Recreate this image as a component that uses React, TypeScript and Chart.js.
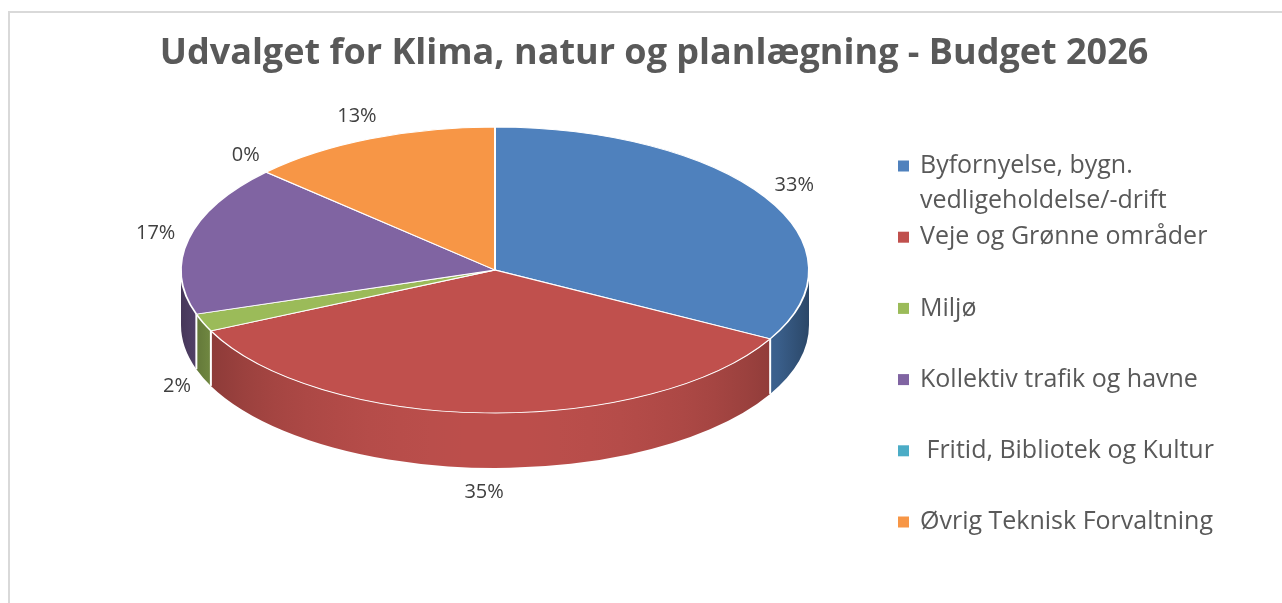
import React, { useEffect, useRef } from "react";
import { Chart, registerables } from "chart.js";

Chart.register(...registerables);

// ---------- data ----------
const TITLE = "Udvalget for Klima, natur og planlægning - Budget 2026";
const categories = [
  "Byfornyelse, bygn. vedligeholdelse/-drift",
  "Veje og Grønne områder",
  "Miljø",
  "Kollektiv trafik og havne",
  " Fritid, Bibliotek og Kultur",
  "Øvrig Teknisk Forvaltning",
];
const shares = [33, 35, 2, 17, 0, 13];
const colors = ["#4F81BD", "#C0504D", "#9BBB59", "#8064A2", "#4BACC6", "#F79646"];

// ---------- layout / style ----------
const W = 1282;
const H = 603;
const PIE = { cx: 495, cy: 270, rx: 314, ry: 143, depth: 55 };
const LEGEND = { boxX: 898, textX: 920, firstY: 166, pitch: 71.2, lineH: 35, box: 11, maxW: 320, size: 25 };
const TEXT_COLOR = "#595959";
const LABEL_COLOR = "#404040";

function shade(hex: string, f: number): string {
  const n = parseInt(hex.slice(1), 16);
  const r = Math.round(((n >> 16) & 255) * f);
  const g = Math.round(((n >> 8) & 255) * f);
  const b = Math.round((n & 255) * f);
  return `rgb(${r},${g},${b})`;
}

function ellPt(a: number, dy = 0) {
  return { x: PIE.cx + PIE.rx * Math.cos(a), y: PIE.cy + PIE.ry * Math.sin(a) + dy };
}

const framePlugin = {
  id: "frame",
  beforeDraw(chart: any) {
    const ctx = chart.ctx;
    ctx.save();
    ctx.strokeStyle = "#d9d9d9";
    ctx.lineWidth = 2;
    ctx.beginPath();
    ctx.moveTo(9, H);
    ctx.lineTo(9, 12);
    ctx.lineTo(W, 12);
    ctx.stroke();
    ctx.restore();
  },
};

const pie3dPlugin = {
  id: "pie3d",
  beforeDatasetsDraw(chart: any) {
    const ctx = chart.ctx;
    const meta = chart.getDatasetMeta(0);
    const arcs = meta.data;
    const ds = chart.data.datasets[0];
    const { rx, depth, cx } = PIE;
    // side walls (front half only)
    arcs.forEach((arc: any, i: number) => {
      const { startAngle, endAngle } = arc.getProps(["startAngle", "endAngle"], true);
      const ranges = [
        [0, Math.PI],
        [2 * Math.PI, 3 * Math.PI],
      ];
      ranges.forEach(([lo, hi]) => {
        const a1 = Math.max(startAngle, lo);
        const a2 = Math.min(endAngle, hi);
        if (a2 <= a1) return;
        const col = ds.backgroundColor[i];
        const grad = ctx.createLinearGradient(cx - rx, 0, cx + rx, 0);
        for (let k = 0; k <= 20; k++) {
          const u = k / 20;
          const t = u * 2 - 1;
          const f = 0.55 + 0.43 * Math.sqrt(Math.max(0, 1 - t * t));
          grad.addColorStop(u, shade(col, f));
        }
        ctx.save();
        ctx.beginPath();
        ctx.ellipse(PIE.cx, PIE.cy, PIE.rx, PIE.ry, 0, a1, a2, false);
        const p2 = ellPt(a2, depth);
        ctx.lineTo(p2.x, p2.y);
        ctx.ellipse(PIE.cx, PIE.cy + depth, PIE.rx, PIE.ry, 0, a2, a1, true);
        ctx.closePath();
        ctx.fillStyle = grad;
        ctx.fill();
        ctx.restore();
      });
    });
    // white separators on the side walls
    arcs.forEach((arc: any) => {
      const { startAngle } = arc.getProps(["startAngle"], true);
      const a = ((startAngle % (2 * Math.PI)) + 2 * Math.PI) % (2 * Math.PI);
      if (a > 0.01 && a < Math.PI - 0.01) {
        const p1 = ellPt(a, 0);
        const p2 = ellPt(a, depth);
        ctx.save();
        ctx.strokeStyle = "#ffffff";
        ctx.lineWidth = 2;
        ctx.beginPath();
        ctx.moveTo(p1.x, p1.y);
        ctx.lineTo(p2.x, p2.y);
        ctx.stroke();
        ctx.restore();
      }
    });
    // map the library's circle onto the tilted ellipse
    const { x, y, outerRadius } = arcs[0].getProps(["x", "y", "outerRadius"], true);
    ctx.save();
    ctx.translate(PIE.cx, PIE.cy);
    ctx.scale(PIE.rx / outerRadius, PIE.ry / outerRadius);
    ctx.translate(-x, -y);
  },
  afterDatasetsDraw(chart: any) {
    const ctx = chart.ctx;
    ctx.restore();
    const meta = chart.getDatasetMeta(0);
    const values = chart.data.datasets[0].data;
    ctx.save();
    ctx.font = "20px 'Open Sans'";
    ctx.fillStyle = LABEL_COLOR;
    ctx.textAlign = "center";
    ctx.textBaseline = "middle";
    meta.data.forEach((arc: any, i: number) => {
      const { startAngle, endAngle } = arc.getProps(["startAngle", "endAngle"], true);
      const mid = (startAngle + endAngle) / 2;
      const c = Math.cos(mid);
      const s = Math.sin(mid);
      const base = ellPt(mid, s > 0 ? PIE.depth : 0);
      const txt = `${values[i]}%`;
      const hw = ctx.measureText(txt).width / 2;
      const g = 14;
      const lx = base.x + c * (hw + g);
      const ly = base.y + s * (10 + g);
      ctx.fillText(txt, lx, ly);
    });
    ctx.restore();
  },
  afterDraw(chart: any) {
    const ctx = chart.ctx;
    const labels = chart.data.labels as string[];
    const bg = chart.data.datasets[0].backgroundColor as string[];
    ctx.save();
    ctx.font = `${LEGEND.size}px 'Open Sans'`;
    ctx.textBaseline = "middle";
    ctx.textAlign = "left";
    labels.forEach((label, i) => {
      const y0 = LEGEND.firstY + i * LEGEND.pitch;
      ctx.fillStyle = bg[i];
      ctx.fillRect(LEGEND.boxX, y0 - LEGEND.box / 2, LEGEND.box, LEGEND.box);
      // word wrap
      const words = label.split(" ");
      const lines: string[] = [];
      let cur = "";
      words.forEach((w, wi) => {
        const test = wi === 0 ? w : cur + " " + w;
        if (wi > 0 && ctx.measureText(test).width > LEGEND.maxW && cur.trim() !== "") {
          lines.push(cur);
          cur = w;
        } else {
          cur = test;
        }
      });
      lines.push(cur);
      ctx.fillStyle = TEXT_COLOR;
      lines.forEach((ln, li) => {
        ctx.fillText(ln, LEGEND.textX, y0 + li * LEGEND.lineH);
      });
    });
    ctx.restore();
  },
};

export default function App() {
  const ref = useRef<HTMLCanvasElement | null>(null);
  useEffect(() => {
    document.body.style.margin = "0";
    const canvas = ref.current;
    if (!canvas) return;
    const chart = new Chart(canvas, {
      type: "pie",
      data: {
        labels: categories,
        datasets: [
          {
            data: shares,
            backgroundColor: colors,
            borderColor: "#ffffff",
            borderWidth: 1.6,
            clip: false,
          } as any,
        ],
      },
      options: {
        responsive: false,
        devicePixelRatio: 1,
        animation: false,
        events: [],
        layout: { padding: { left: 26, right: 0, top: 0, bottom: 0 } },
        plugins: {
          legend: { display: false },
          tooltip: { enabled: false },
          title: {
            display: true,
            text: TITLE,
            color: TEXT_COLOR,
            font: { family: "'Open Sans'", size: 36, weight: "bold" },
            padding: { top: 32, bottom: 10 },
          },
        },
      } as any,
      plugins: [framePlugin, pie3dPlugin],
    });
    return () => chart.destroy();
  }, []);
  return (
    <canvas
      ref={ref}
      width={W}
      height={H}
      style={{ display: "block", width: W, height: H }}
    />
  );
}
